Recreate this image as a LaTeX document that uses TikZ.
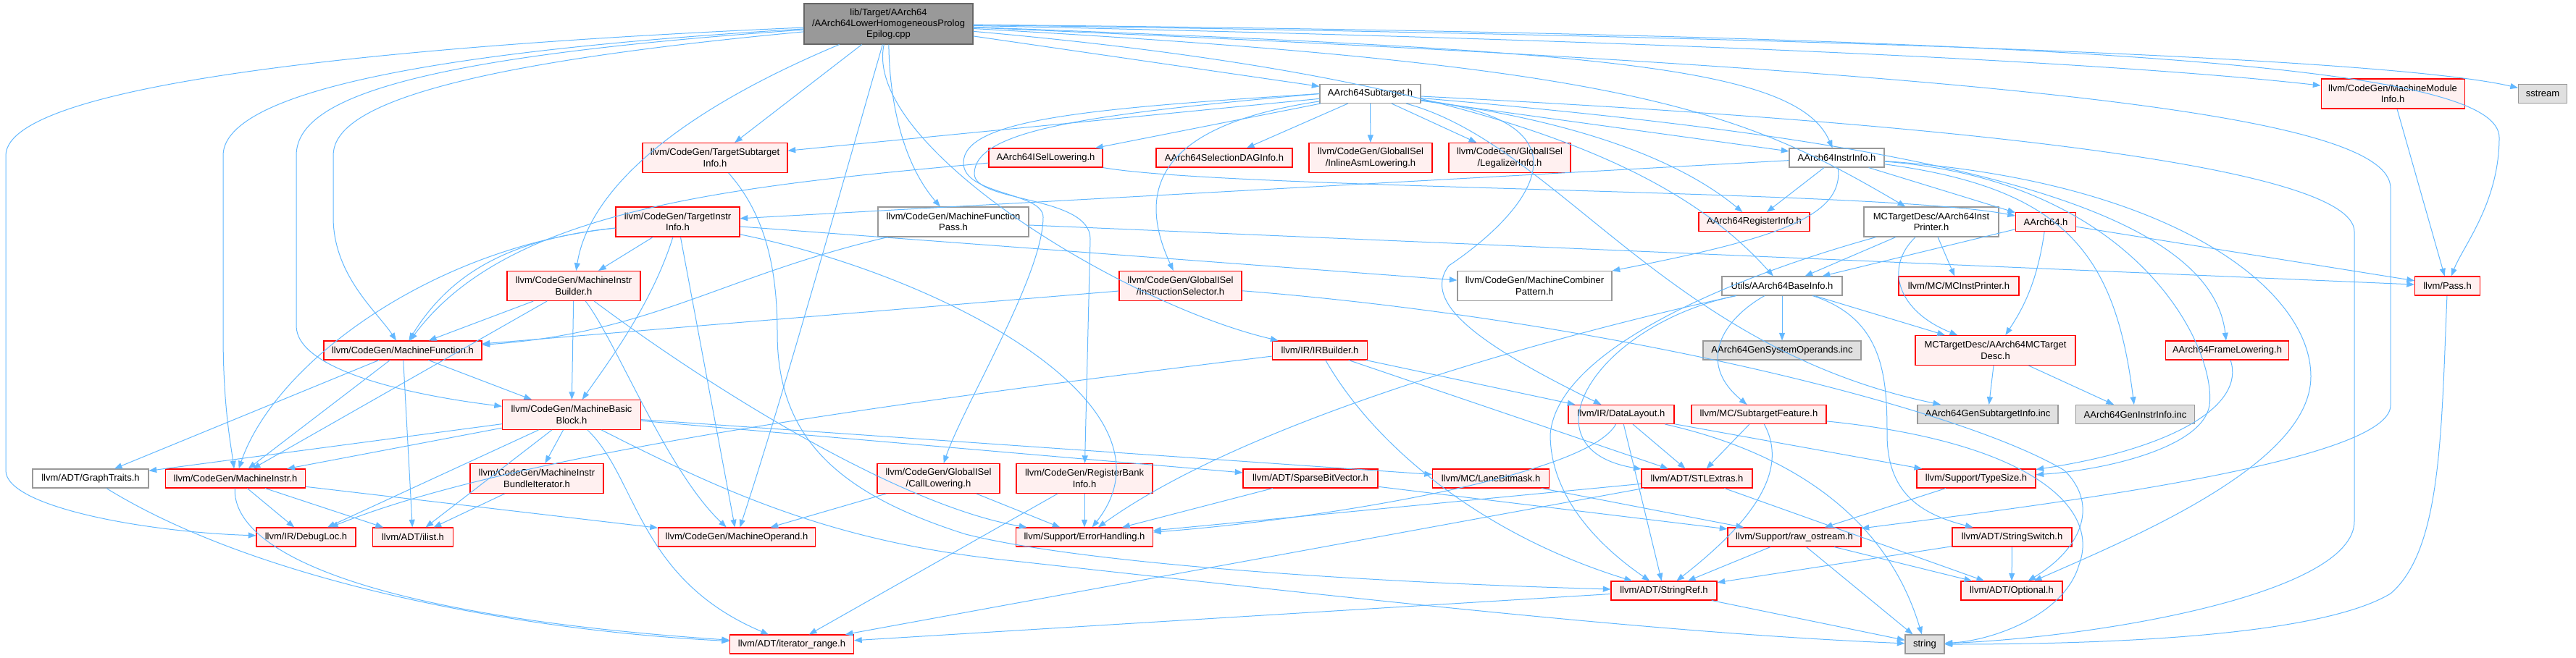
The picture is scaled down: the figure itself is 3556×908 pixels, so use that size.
\documentclass[tikz,border=0pt]{standalone}
\usepackage{fontspec}
\setmainfont{Liberation Sans}
\usetikzlibrary{arrows.meta}

\definecolor{edgeblue}{HTML}{63B8FF}
\definecolor{boxred}{HTML}{FF0000}
\definecolor{boxpink}{HTML}{FFF0F0}
\definecolor{boxgray}{HTML}{999999}
\definecolor{leafgray}{HTML}{E0E0E0}
\definecolor{rootfill}{HTML}{999999}
\definecolor{rootline}{HTML}{666666}

\begin{document}
\begin{tikzpicture}[
  x=0.75pt, y=-0.75pt,
  box/.style={draw, line width=0.8pt, inner sep=0pt, minimum height=19.5pt,
    align=center, font=\fontsize{9.75}{11.5}\selectfont},
  redbox/.style={box, draw=boxred, fill=boxpink},
  plainbox/.style={box, draw=boxgray, fill=white},
  leafbox/.style={box, draw=boxgray, fill=leafgray},
  rootbox/.style={box, draw=rootline, fill=rootfill, minimum height=42pt},
  tall/.style={minimum height=30.75pt},
  edge/.style={draw=edgeblue, line width=0.75pt, -{Triangle[length=8pt, width=6pt]}},
]

\useasboundingbox (0,0) rectangle (3556,908);

% source file
\node[rootbox, minimum width=174.75pt] (lpe) at (1226.5,33)
  {lib/Target/AArch64\\/AArch64LowerHomogeneousProlog\\Epilog.cpp};

% rank 1
\node[plainbox, minimum width=104.25pt] (subtarget) at (1891.5,129.5) {AArch64Subtarget.h};
\node[redbox, tall, minimum width=148.5pt] (mmi) at (3303,129.5) {llvm/CodeGen/MachineModule\\Info.h};
\node[leafbox, minimum width=50.25pt] (sstream) at (3510,129.5) {sstream};

% rank 2
\node[redbox, tall, minimum width=150pt] (tsi) at (987,218) {llvm/CodeGen/TargetSubtarget\\Info.h};
\node[redbox, minimum width=117.75pt] (isel) at (1443.5,218) {AArch64ISelLowering.h};
\node[redbox, minimum width=141pt] (seldag) at (1690,218) {AArch64SelectionDAGInfo.h};
\node[redbox, tall, minimum width=127.5pt] (inlineasm) at (1892,218) {llvm/CodeGen/GlobalISel\\/InlineAsmLowering.h};
\node[redbox, tall, minimum width=126pt] (legalizer) at (2084,218) {llvm/CodeGen/GlobalISel\\/LegalizerInfo.h};
\node[plainbox, minimum width=98.25pt] (instrinfo) at (2535.5,218) {AArch64InstrInfo.h};

% rank 3
\node[redbox, tall, minimum width=128.25pt] (tii) at (935.5,306.5) {llvm/CodeGen/TargetInstr\\Info.h};
\node[plainbox, tall, minimum width=156pt] (mfpass) at (1316,306.5) {llvm/CodeGen/MachineFunction\\Pass.h};
\node[redbox, minimum width=114.75pt] (reginfo) at (2421.5,306.5) {AArch64RegisterInfo.h};
\node[plainbox, tall, minimum width=139.5pt] (instprinter) at (2666,306.5) {MCTargetDesc/AArch64Inst\\Printer.h};
\node[redbox, minimum width=62.25pt] (aarch) at (2824,306.5) {AArch64.h};

% rank 4
\node[redbox, tall, minimum width=138pt] (mib) at (792,395) {llvm/CodeGen/MachineInstr\\Builder.h};
\node[redbox, tall, minimum width=126.75pt] (instsel) at (1629.5,395) {llvm/CodeGen/GlobalISel\\/InstructionSelector.h};
\node[plainbox, tall, minimum width=159.75pt] (mcpattern) at (2118.5,395) {llvm/CodeGen/MachineCombiner\\Pattern.h};
\node[plainbox, minimum width=124.5pt] (baseinfo) at (2460,395) {Utils/AArch64BaseInfo.h};
\node[redbox, minimum width=124.5pt] (mcinstprinter) at (2704,395) {llvm/MC/MCInstPrinter.h};
\node[redbox, minimum width=67.5pt] (pass) at (3378.5,395) {llvm/Pass.h};

% rank 5
\node[redbox, minimum width=163.5pt] (mfunc) at (556,484) {llvm/CodeGen/MachineFunction.h};
\node[redbox, minimum width=98.25pt] (irbuilder) at (1822,484) {llvm/IR/IRBuilder.h};
\node[leafbox, minimum width=163.5pt] (sysops) at (2460,484) {AArch64GenSystemOperands.inc};
\node[redbox, tall, minimum width=165.75pt] (mcdesc) at (2754.5,484) {MCTargetDesc/AArch64MCTarget\\Desc.h};
\node[redbox, minimum width=127.5pt] (framelow) at (3074.5,484) {AArch64FrameLowering.h};

% rank 6
\node[redbox, tall, minimum width=143.25pt] (mbb) at (789,573) {llvm/CodeGen/MachineBasic\\Block.h};
\node[redbox, minimum width=109.5pt] (datalayout) at (2238,572.5) {llvm/IR/DataLayout.h};
\node[redbox, minimum width=139.5pt] (stfeature) at (2428,572.5) {llvm/MC/SubtargetFeature.h};
\node[leafbox, minimum width=145.5pt] (gensubtgt) at (2744,572.5) {AArch64GenSubtargetInfo.inc};
\node[leafbox, minimum width=123pt] (geninstr) at (2947.5,572.5) {AArch64GenInstrInfo.inc};

% rank 7
\node[plainbox, minimum width=120pt] (graphtraits) at (125,661) {llvm/ADT/GraphTraits.h};
\node[redbox, minimum width=144.75pt] (minstr) at (325,661) {llvm/CodeGen/MachineInstr.h};
\node[redbox, tall, minimum width=138pt] (bundleiter) at (741,661) {llvm/CodeGen/MachineInstr\\BundleIterator.h};
\node[redbox, tall, minimum width=126.75pt] (calllow) at (1295.5,661) {llvm/CodeGen/GlobalISel\\/CallLowering.h};
\node[redbox, tall, minimum width=141pt] (rbi) at (1497,661) {llvm/CodeGen/RegisterBank\\Info.h};
\node[redbox, minimum width=139.5pt] (sparsebv) at (1809,661) {llvm/ADT/SparseBitVector.h};
\node[redbox, minimum width=120.75pt] (lanemask) at (2058,661) {llvm/MC/LaneBitmask.h};
\node[redbox, minimum width=114.75pt] (stlextras) at (2342.5,661) {llvm/ADT/STLExtras.h};
\node[redbox, minimum width=123pt] (typesize) at (2728,661) {llvm/Support/TypeSize.h};

% rank 8
\node[redbox, minimum width=102.75pt] (debugloc) at (422.5,742) {llvm/IR/DebugLoc.h};
\node[redbox, minimum width=83.25pt] (ilist) at (570,742) {llvm/ADT/ilist.h};
\node[redbox, minimum width=162.75pt] (moperand) at (1017,742) {llvm/CodeGen/MachineOperand.h};
\node[redbox, minimum width=141.75pt] (errhandling) at (1497,742) {llvm/Support/ErrorHandling.h};
\node[redbox, minimum width=138pt] (rawostream) at (2477,742) {llvm/Support/raw\_ostream.h};
\node[redbox, minimum width=123.75pt] (strswitch) at (2777.5,742) {llvm/ADT/StringSwitch.h};

% rank 9 and 10
\node[redbox, minimum width=109.5pt] (stringref) at (2297,816) {llvm/ADT/StringRef.h};
\node[redbox, minimum width=105pt] (optional) at (2777,816) {llvm/ADT/Optional.h};
\node[redbox, minimum width=128.25pt] (iterrange) at (1093,890) {llvm/ADT/iterator\_range.h};
\node[leafbox, minimum width=40.5pt] (string) at (2657,890) {string};

% includes of the source file
\draw[edge] (lpe) -- (subtarget);
\draw[edge] (lpe) .. controls (2200,70) and (2480,90) .. (instrinfo);
\draw[edge] (lpe) .. controls (2250,90) and (2400,150) .. (instprinter);
\draw[edge] (lpe) .. controls (2100,110) and (2330,250) .. (baseinfo);
\draw[edge] (lpe) .. controls (550,80) and (409,140) .. (409,215) -- (409,450)
  .. controls (409,510) and (560,545) .. (mbb);
\draw[edge] (lpe) .. controls (560,95) and (460,160) .. (460,215) -- (460,300)
  .. controls (460,380) and (520,430) .. (mfunc);
\draw[edge] (lpe) .. controls (1228,150) and (1250,230) .. (mfpass);
\draw[edge] (lpe) .. controls (520,75) and (308,140) .. (308,215) -- (308,460)
  .. controls (308,560) and (318,610) .. (minstr);
\draw[edge] (lpe) .. controls (900,170) and (810,280) .. (mib);
\draw[edge] (lpe) .. controls (2500,60) and (3000,95) .. (mmi);
\draw[edge] (lpe) .. controls (1150,300) and (1080,550) .. (moperand);
\draw[edge] (lpe) -- (tsi);
\draw[edge] (lpe) .. controls (600,60) and (8,110) .. (8,215) -- (8,650)
  .. controls (8,700) and (200,735) .. (debugloc);
\draw[edge] (lpe) .. controls (1190,200) and (1550,420) .. (irbuilder);
\draw[edge] (lpe) .. controls (3000,50) and (3450,100) .. (3450,190)
  .. controls (3450,280) and (3400,340) .. (pass);
\draw[edge] (lpe) .. controls (2800,100) and (3300,160) .. (3300,260) -- (3300,560)
  .. controls (3300,640) and (2800,700) .. (rawostream);
\draw[edge] (lpe) .. controls (2500,50) and (3300,80) .. (sstream);

% AArch64Subtarget.h
\draw[edge] (subtarget) .. controls (2600,190) and (3050,270) .. (framelow);
\draw[edge] (subtarget) -- (isel);
\draw[edge] (subtarget) -- (instrinfo);
\draw[edge] (subtarget) .. controls (2200,170) and (2330,230) .. (reginfo);
\draw[edge] (subtarget) -- (seldag);
\draw[edge] (subtarget.west) .. controls (1500,150) and (1330,165) .. (1330,225)
  .. controls (1330,270) and (1440,265) .. (1440,300)
  .. controls (1440,380) and (1330,560) .. (calllow);
\draw[edge] (subtarget) -- (inlineasm);
\draw[edge] (subtarget) .. controls (1600,173) and (1567,260) .. (instsel);
\draw[edge] (subtarget) -- (legalizer);
\draw[edge] (subtarget.west) .. controls (1500,158) and (1345,180) .. (1345,240)
  .. controls (1345,280) and (1505,270) .. (1505,330) -- (rbi);
\draw[edge] (subtarget) -- (tsi);
\draw[edge] (subtarget) .. controls (2220,170) and (2100,300) .. (2000,367)
  .. controls (1960,420) and (2050,480) .. (datalayout);
\draw[edge] (subtarget) .. controls (2700,170) and (3250,230) .. (3250,320) -- (3250,720)
  .. controls (3250,820) and (2900,880) .. (string);
\draw[edge] (subtarget) .. controls (2150,200) and (2300,480) .. (gensubtgt);

% AArch64InstrInfo.h
\draw[edge] (instrinfo) -- (aarch);
\draw[edge] (instrinfo) -- (reginfo);
\draw[edge] (instrinfo) .. controls (3000,250) and (3190,400) .. (3190,520)
  .. controls (3190,640) and (2950,740) .. (optional);
\draw[edge] (instrinfo) .. controls (2546,300) and (2450,330) .. (mcpattern);
\draw[edge] (instrinfo) -- (tii);
\draw[edge] (instrinfo) .. controls (2950,250) and (3060,480) .. (3050,560)
  .. controls (3040,620) and (2900,650) .. (typesize);
\draw[edge] (instrinfo) .. controls (2850,260) and (2920,350) .. (geninstr);

% AArch64ISelLowering.h
\draw[edge] (isel) .. controls (1700,262) and (2600,262) .. (aarch);
\draw[edge] (isel) .. controls (1000,258) and (700,290) .. (mfunc);

% MCTargetDesc/AArch64InstPrinter.h and AArch64.h
\draw[edge] (instprinter) .. controls (2600,370) and (2620,430) .. (mcdesc);
\draw[edge] (instprinter) .. controls (2400,380) and (2150,480) .. (2140,600)
  .. controls (2140,700) and (2230,770) .. (stringref);
\draw[edge] (instprinter) -- (mcinstprinter);
\draw[edge] (instprinter) -- (baseinfo);
\draw[edge] (aarch) .. controls (2812,393) and (2790,430) .. (mcdesc);
\draw[edge] (aarch) -- (baseinfo);
\draw[edge] (aarch) -- (pass);

% Utils/AArch64BaseInfo.h
\draw[edge] (baseinfo) -- (mcdesc);
\draw[edge] (baseinfo) .. controls (2200,450) and (2100,620) .. (stlextras);
\draw[edge] (baseinfo) .. controls (2600,440) and (2605,520) .. (2605,600)
  .. controls (2605,680) and (2650,710) .. (strswitch);
\draw[edge] (baseinfo) .. controls (2380,440) and (2340,500) .. (stfeature);
\draw[edge] (baseinfo) .. controls (2250,440) and (1750,560) .. (errhandling);
\draw[edge] (baseinfo) -- (sysops);
\draw[edge] (mcdesc) -- (gensubtgt);
\draw[edge] (mcdesc) -- (geninstr);
\draw[edge] (framelow) .. controls (3100,560) and (3000,620) .. (typesize);
\draw[edge] (mmi) -- (pass);
\draw[edge] (pass) .. controls (3370,600) and (3370,760) .. (3300,820)
  .. controls (3200,880) and (2900,890) .. (string);

% llvm/CodeGen headers
\draw[edge] (tsi) .. controls (1060,300) and (1073,380) .. (1073,460)
  .. controls (1073,600) and (1150,680) .. (1333,738)
  .. controls (1500,780) and (1900,805) .. (stringref);
\draw[edge] (mfpass) .. controls (1000,380) and (900,460) .. (mfunc);
\draw[edge] (mfpass) -- (pass);
\draw[edge] (instsel) -- (mfunc);
\draw[edge] (instsel) .. controls (2200,440) and (2700,560) .. (2850,650)
  .. controls (2900,700) and (2870,760) .. (optional);
\draw[edge] (tii) .. controls (900,420) and (840,500) .. (mbb);
\draw[edge] (tii) -- (mcpattern);
\draw[edge] (tii) .. controls (700,330) and (620,380) .. (mfunc);
\draw[edge] (tii) .. controls (600,340) and (380,500) .. (minstr);
\draw[edge] (tii) -- (mib);
\draw[edge] (tii) -- (moperand);
\draw[edge] (tii) .. controls (1300,380) and (1640,560) .. (errhandling);
\draw[edge] (mib) -- (mbb);
\draw[edge] (mib) -- (mfunc);
\draw[edge] (mib) -- (minstr);
\draw[edge] (mib) .. controls (850,470) and (920,650) .. (moperand);
\draw[edge] (mib) .. controls (1000,550) and (1250,700) .. (errhandling);
\draw[edge] (mfunc) -- (graphtraits);
\draw[edge] (mfunc) -- (ilist);
\draw[edge] (mfunc) -- (mbb);
\draw[edge] (mfunc) -- (minstr);
\draw[edge] (mbb) -- (graphtraits);
\draw[edge] (mbb) -- (sparsebv);
\draw[edge] (mbb) -- (ilist);
\draw[edge] (mbb) .. controls (880,660) and (880,800) .. (iterrange);
\draw[edge] (mbb) -- (minstr);
\draw[edge] (mbb) -- (bundleiter);
\draw[edge] (mbb) -- (debugloc);
\draw[edge] (mbb) -- (lanemask);
\draw[edge] (mbb) .. controls (1000,680) and (1150,750) .. (1400,775)
  .. controls (1900,830) and (2300,875) .. (string);
\draw[edge] (minstr) -- (ilist);
\draw[edge] (minstr) .. controls (320,760) and (500,850) .. (iterrange);
\draw[edge] (minstr) -- (moperand);
\draw[edge] (minstr) -- (debugloc);
\draw[edge] (graphtraits) .. controls (350,800) and (700,870) .. (iterrange);
\draw[edge] (bundleiter) -- (ilist);
\draw[edge] (calllow) -- (moperand);
\draw[edge] (calllow) -- (errhandling);
\draw[edge] (rbi) -- (iterrange);
\draw[edge] (rbi) -- (errhandling);

% llvm/IR, llvm/MC, llvm/ADT and llvm/Support headers
\draw[edge] (irbuilder) -- (datalayout);
\draw[edge] (irbuilder) -- (stlextras);
\draw[edge] (irbuilder) .. controls (1900,620) and (2050,740) .. (stringref);
\draw[edge] (irbuilder) .. controls (1200,560) and (700,630) .. (debugloc);
\draw[edge] (datalayout) -- (stlextras);
\draw[edge] (datalayout) -- (stringref);
\draw[edge] (datalayout) .. controls (2190,660) and (1800,720) .. (errhandling);
\draw[edge] (datalayout) -- (typesize);
\draw[edge] (datalayout) .. controls (2450,620) and (2600,700) .. (string);
\draw[edge] (stfeature) -- (stlextras);
\draw[edge] (stfeature) .. controls (2470,650) and (2420,720) .. (stringref);
\draw[edge] (stfeature) .. controls (2800,610) and (2900,700) .. (2870,780)
  .. controls (2850,850) and (2750,885) .. (string);
\draw[edge] (sparsebv) -- (errhandling);
\draw[edge] (sparsebv) -- (rawostream);
\draw[edge] (lanemask) -- (rawostream);
\draw[edge] (stlextras) -- (optional);
\draw[edge] (stlextras) -- (errhandling);
\draw[edge] (stlextras) -- (iterrange);
\draw[edge] (typesize) -- (rawostream);
\draw[edge] (rawostream) -- (stringref);
\draw[edge] (rawostream) -- (optional);
\draw[edge] (rawostream) -- (string);
\draw[edge] (strswitch) -- (stringref);
\draw[edge] (strswitch) -- (optional);
\draw[edge] (stringref) -- (iterrange);
\draw[edge] (stringref) -- (string);

\end{tikzpicture}
\end{document}
